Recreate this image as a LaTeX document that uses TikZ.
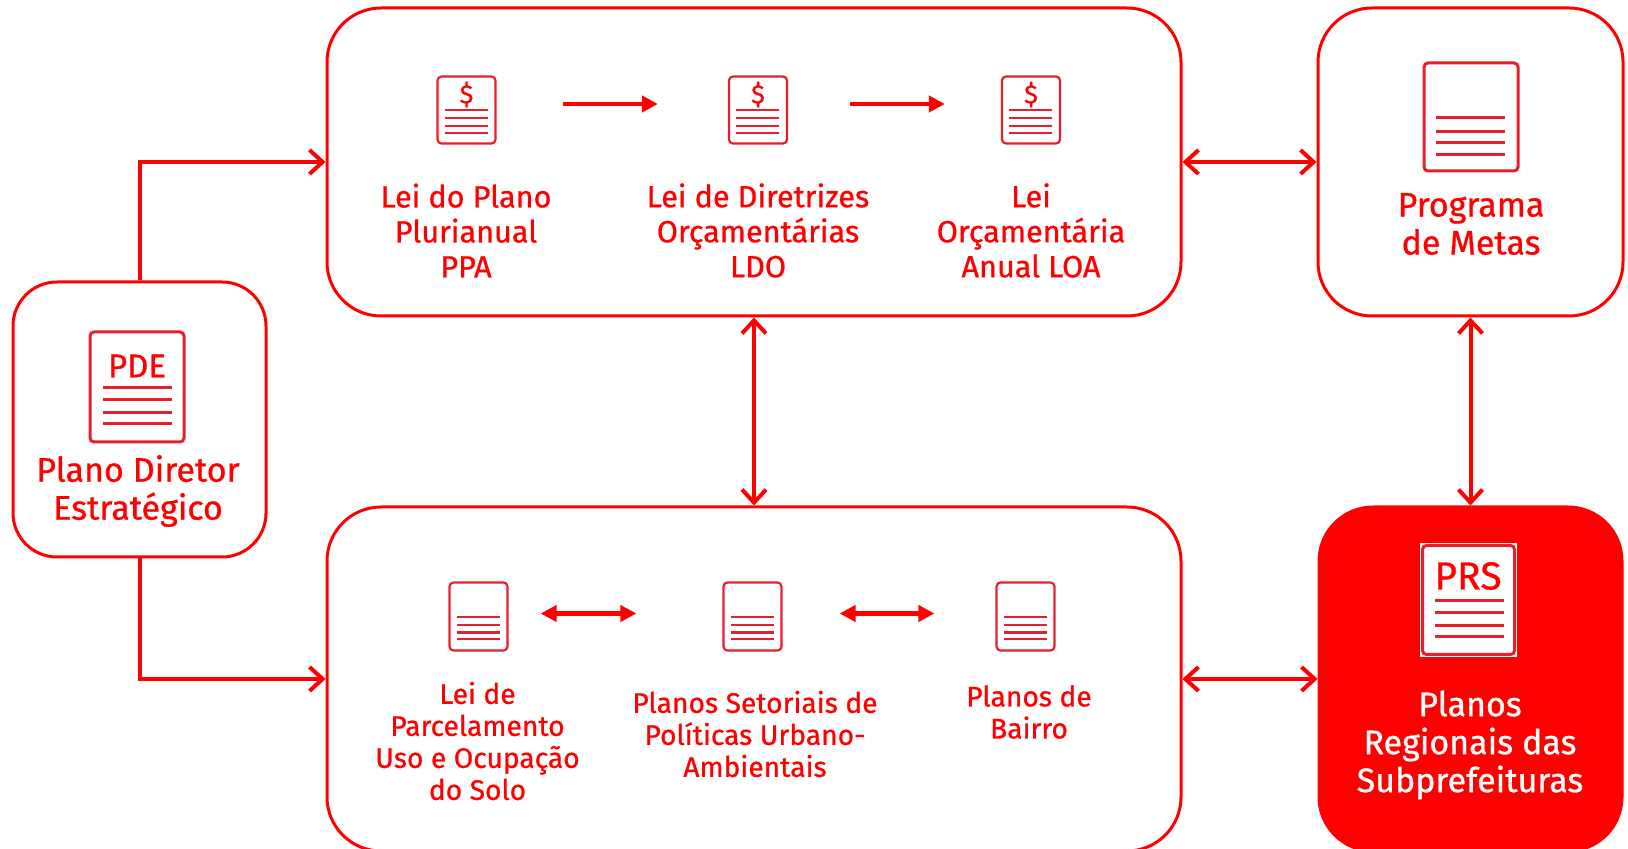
\documentclass[tikz,border=0pt]{standalone}
\usepackage{fontspec}
\setmainfont{Fira Sans}[FakeBold=0.8]
\usepackage{tikz}
\usetikzlibrary{arrows.meta}
\definecolor{prsred}{RGB}{255,0,0}
\definecolor{docred}{RGB}{232,30,44}

\begin{document}
\begin{tikzpicture}[x=.5pt,y=-.5pt,
caixa/.style={draw=prsred,line width=1.5pt,rectangle,inner sep=0pt},
doc/.style={draw=docred,line width=1.5pt,rectangle,rounded corners=2pt,inner sep=0pt},
pauta/.style={draw=docred,line width=1.5pt},
titulo/.style={text=prsred,align=center,font=\fontsize{15.3}{17.5}\selectfont},
menor/.style={text=prsred,align=center,font=\fontsize{14.1}{16}\selectfont},
maior/.style={text=prsred,align=center,font=\fontsize{17}{19}\selectfont},
sigla/.style={text=prsred,inner sep=0pt,font=\fontsize{16.5}{16.5}\selectfont},
liga/.style={draw=prsred,line width=2pt,{Straight Barb[length=6.5pt,width=12pt]}-{Straight Barb[length=6.5pt,width=12pt]}},
ligaseta/.style={draw=prsred,line width=2pt,-{Straight Barb[length=6.5pt,width=12pt]}},
seta/.style={draw=prsred,line width=2.2pt,-{Triangle[length=8pt,width=8pt]}},
setadupla/.style={draw=prsred,line width=2.2pt,{Triangle[length=8pt,width=8pt]}-{Triangle[length=8pt,width=8pt]}}]
\clip (0,0) rectangle (1628,849);

% caixas
\node (pde) at (139.5,419.5) [caixa,rounded corners=22pt,minimum width=126.5pt,minimum height=137.5pt] {};
\node (orc) at (754,162) [caixa,rounded corners=27pt,minimum width=427pt,minimum height=154pt] {};
\node (metas) at (1470.5,162) [caixa,rounded corners=27pt,minimum width=152.5pt,minimum height=154pt] {};
\node (urb) at (754,679) [caixa,rounded corners=27pt,minimum width=427pt,minimum height=172pt] {};
\node (prs) at (1470.5,679) [caixa,fill=prsred,rounded corners=27pt,minimum width=151.5pt,minimum height=172pt] {};

% ligacoes
\draw [ligaseta] (pde.north) |- (orc.west);
\draw [ligaseta] (pde.south) |- (urb.west);
\draw [liga] (orc.east) -- (metas.west);
\draw [liga] (urb.east) -- (prs.west);
\draw [liga] (orc.south) -- (urb.north);
\draw [liga] (metas.south) -- (prs.north);

% documentos grandes
\node (docpde) at (137,387) [doc,minimum width=47pt,minimum height=55pt] {};
\node (docmetas) at (1471,117) [doc,minimum width=47pt,minimum height=54pt] {};
\node (fundoprs) at (1468.5,600) [fill=white,inner sep=0pt,minimum width=48.5pt,minimum height=57pt] {};
\node (docprs) at (1468.5,600) [doc,minimum width=46pt,minimum height=54.5pt] {};
\node (txtpde) at (137,366) [sigla] {PDE};
\node (txtprs) at (1468,576) [sigla,font=\fontsize{19.5}{19.5}\selectfont] {PRS};
\foreach \yy in {388,400,413,424}
  \draw [pauta] (103,\yy) -- (172,\yy);
\foreach \yy in {118,132,143,155}
  \draw [pauta] (1436,\yy) -- (1505,\yy);
\foreach \yy in {601,613,626,637}
  \draw [pauta] (1435,\yy) -- (1504,\yy);

% documentos pequenos
\node (docppa) at (466.5,110) [doc,line width=1.1pt,minimum width=29pt,minimum height=33.5pt] {};
\node (docldo) at (758,110) [doc,line width=1.1pt,minimum width=29pt,minimum height=33.5pt] {};
\node (docloa) at (1031,110) [doc,line width=1.1pt,minimum width=29pt,minimum height=33.5pt] {};
\node (docluos) at (478.5,616.5) [doc,line width=1.1pt,minimum width=29pt,minimum height=34pt] {};
\node (docset) at (752.5,616.5) [doc,line width=1.1pt,minimum width=29pt,minimum height=34pt] {};
\node (docbai) at (1025.5,616.5) [doc,line width=1.1pt,minimum width=29pt,minimum height=34pt] {};
\foreach \xx/\nn in {466.5/ppa,758/ldo,1031/loa}{
  \node (cif\nn) at (\xx,94.5) [sigla,font=\fontsize{13}{13}\selectfont] {\$};
  \foreach \yy in {110,118,126,133}
    \draw [pauta,line width=1.1pt] (\xx-22,\yy) -- (\xx+21,\yy);
}
\foreach \xx in {478.5,752.5,1025.5}
  \foreach \yy in {617,625,632.5,639}
    \draw [pauta,line width=1.1pt] (\xx-22,\yy) -- (\xx+21,\yy);

% setas internas
\draw [seta,shorten <=33pt,shorten >=35pt] ([yshift=3pt]docppa.east) -- ([yshift=3pt]docldo.west);
\draw [seta,shorten <=31pt,shorten >=28pt] ([yshift=3pt]docldo.east) -- ([yshift=3pt]docloa.west);
\draw [setadupla,shorten <=16pt,shorten >=43pt] ([yshift=1.5pt]docluos.east) -- ([yshift=1.5pt]docset.west);
\draw [setadupla,shorten <=28.5pt,shorten >=30.5pt] ([yshift=1.5pt]docset.east) -- ([yshift=1.5pt]docbai.west);

% textos
\node (lblpde) at (138,491) [maior] {Plano Diretor\\Estratégico};
\node (lblmetas) at (1471,224) [maior] {Programa\\de Metas};
\node (lblprs) at (1470,745) [maior,text=white] {Planos\\Regionais das\\Subprefeituras};
\node (lblppa) at (466,230.5) [titulo] {Lei do Plano\\Plurianual\\PPA};
\node (lblldo) at (758,230.5) [titulo] {Lei de Diretrizes\\Orçamentárias\\LDO};
\node (lblloa) at (1031,230.5) [titulo] {Lei\\Orçamentária\\Anual LOA};
\node (lblluos) at (477.5,741) [menor] {Lei de\\Parcelamento\\Uso e Ocupação\\do Solo};
\node (lblset) at (755,734) [menor] {Planos Setoriais de\\Políticas Urbano-\\Ambientais};
\node (lblbai) at (1029,712) [menor] {Planos de\\Bairro};
\end{tikzpicture}
\end{document}
